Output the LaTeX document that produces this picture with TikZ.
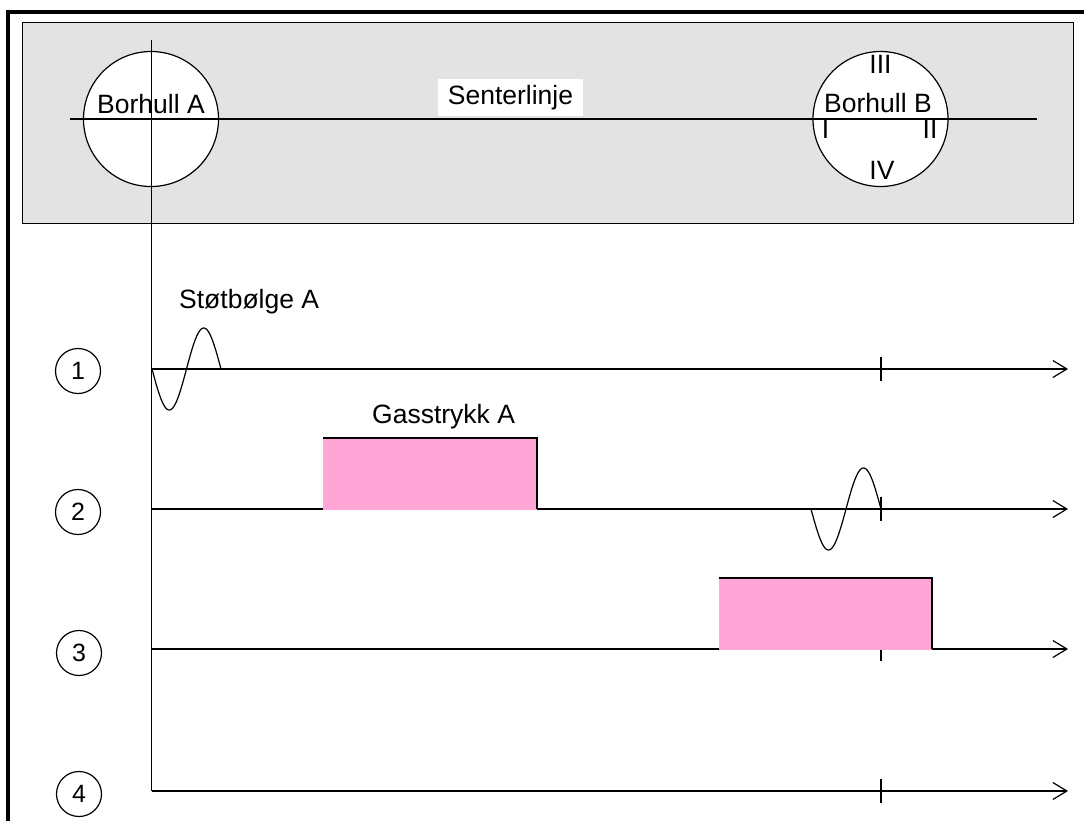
\documentclass[tikz,border=0pt]{standalone}
\usepackage{fontspec}
\setmainfont{Liberation Sans}
\usetikzlibrary{arrows.meta}
\definecolor{panelgray}{RGB}{227,227,227}
\definecolor{gaspink}{RGB}{255,166,214}

\begin{document}
\begin{tikzpicture}[x=1pt,y=-1pt,
  lbl/.style={font=\fontsize{26.5}{30}\selectfont, inner sep=0pt},
  axis/.style={line width=1.4pt, -{Straight Barb[length=14pt,width=17pt,line width=1.2pt]}},
  num/.style={draw, circle, line width=1.2pt, minimum size=45pt, inner sep=0pt,
              font=\fontsize{25}{30}\selectfont},
  hole/.style={draw, circle, fill=white, line width=1.2pt, minimum size=135pt, inner sep=0pt},
  tickmark/.style={line width=1.4pt},
  wave/.style={line width=1.2pt},
  gas/.style={fill=gaspink},
  gasedge/.style={line width=1.4pt}
]
% page area
\clip (0,0) rectangle (1084,820);

% plan view of the two boreholes
\draw[fill=panelgray, line width=1pt] (22,22) rectangle (1073,223);
\node[hole] (holeA) at (151,119) {};
\node[hole] (holeB) at (880.5,119) {};
\coordinate (clW) at (70,119);
\coordinate (clE) at (1037,119);
\draw[line width=1.2pt] (clW) -- (clE);
\coordinate (vtop) at (151.5,40);
\coordinate (vbot) at (151.5,791);
\draw[line width=1.4pt] (vtop) -- (vbot);

\node[lbl, anchor=base] (labA) at (151,113) {Borhull A};
\node[lbl, anchor=base] (labB) at (878,112) {Borhull B};
\node[lbl, fill=white, minimum width=145pt, minimum height=37pt] (center) at (510.5,97.5) {Senterlinje};
\node[lbl, anchor=base] (q3) at (880.5,73) {III};
\node[lbl, anchor=base] (q4) at (882,179) {IV};
\node[lbl, anchor=base] (q1) at (825.5,138) {I};
\node[lbl, anchor=base] (q2) at (930,138) {II};

% time axes
\coordinate (o1) at (151.5,369);  \coordinate (e1) at (1068,369);
\coordinate (o2) at (151.5,509);  \coordinate (e2) at (1068,509);
\coordinate (o3) at (151.5,649);  \coordinate (e3) at (1068,649);
\coordinate (o4) at (151.5,791);  \coordinate (e4) at (1068,791);
\foreach \r in {1,2,3,4} {\draw[axis] (o\r) -- (e\r);}

% arrival marks at borehole B
\draw[tickmark] (881,357) -- (881,381);
\draw[tickmark] (881,497) -- (881,521);
\draw[tickmark] (881,637) -- (881,661);
\draw[tickmark] (881,779) -- (881,803);

% shock waves
\draw[wave] plot[domain=0:1, samples=80, smooth] ({152+69*\x},{369+41*sin(360*\x)});
\draw[wave] plot[domain=0:1, samples=80, smooth] ({811+70*\x},{509+41*sin(360*\x)});
\node[lbl, anchor=base west] (shock) at (179,308) {Støtbølge A};

% gas pressure pulses
\fill[gas] (323,438) rectangle (537,510);
\draw[gasedge] (323,438) -- (537,438) -- (537,509);
\node[lbl, anchor=base west] (gasA) at (372,423) {Gasstrykk A};
\fill[gas] (719,578) rectangle (932,650);
\draw[gasedge] (719,578) -- (932,578) -- (932,649);

% step numbers
\node[num] (n1) at (78,371) {1};
\node[num] (n2) at (78,512) {2};
\node[num] (n3) at (79,653) {3};
\node[num] (n4) at (79,794) {4};

% outer frame
\draw[line width=4pt] (8,12) rectangle (1200,900);
\end{tikzpicture}
\end{document}
